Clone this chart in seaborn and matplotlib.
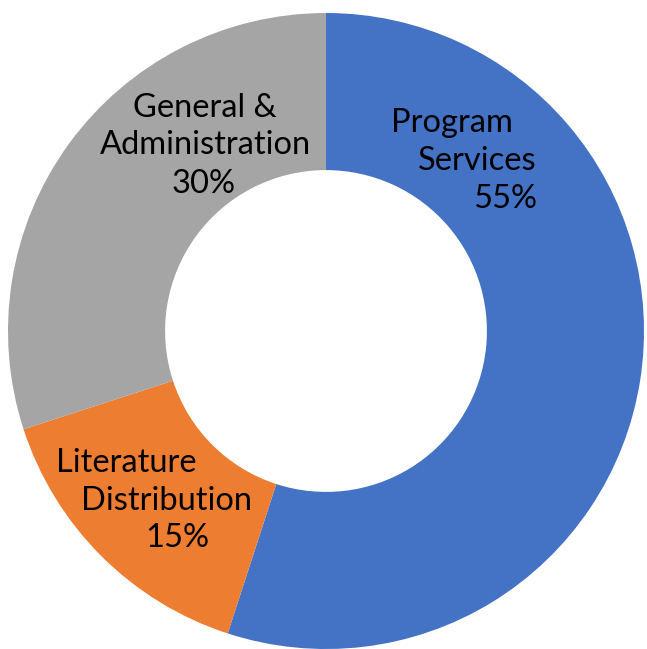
import matplotlib
matplotlib.use('Agg')
import matplotlib.pyplot as plt
import seaborn as sns

# chart data
categories = ['Program Services', 'Literature Distribution', 'General & Administration']
shares = [55, 15, 30]
label_lines = [['Program', 'Services', '55%'],
               ['Literature', 'Distribution', '15%'],
               ['General &', 'Administration', '30%']]
slice_colors = ['#4472C4', '#ED7D31', '#A5A5A5']

sns.set_theme(style='white')
plt.rcParams['font.family'] = ['Lato', 'DejaVu Sans']
palette = sns.color_palette(slice_colors)

W, H = 647, 649
fig = plt.figure(figsize=(W / 100, H / 100), dpi=100)
ax = fig.add_axes([0, 0, 1, 1])

# pixel coords, y measured from the top of the image
cx, cy, R = 326, 331, 318
ax.pie(shares, colors=palette, startangle=90, counterclock=False,
       center=(cx, H - cy), radius=R,
       wedgeprops=dict(width=R * 0.494, edgecolor='none'))
ax.set_xlim(0, W)
ax.set_ylim(0, H)
ax.set_aspect('equal')
ax.axis('off')

# label line centres (x) and baselines (y from top)
line_pos = [[(452, 132), (477, 170), (505, 208)],
            [(126, 472), (167, 510), (177, 547)],
            [(205, 117), (205, 154), (204, 193)]]
for lines, pos in zip(label_lines, line_pos):
    for txt, (x, y) in zip(lines, pos):
        ax.text(x, H - y, txt, ha='center', va='baseline', fontsize=23.5, color='black')

plt.savefig('out.png', dpi=100)
plt.close()
